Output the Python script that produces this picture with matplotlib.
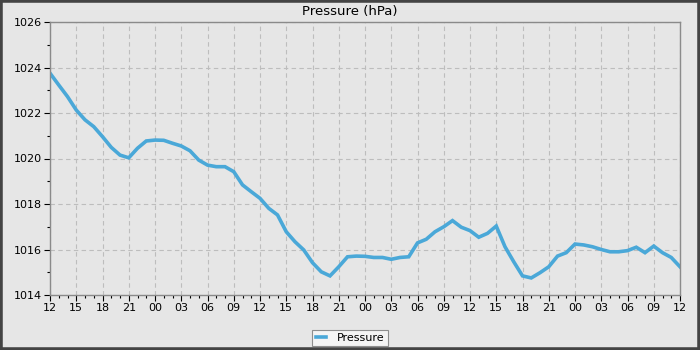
import matplotlib
matplotlib.use("Agg")
import matplotlib.pyplot as plt
import matplotlib.patches as patches
from matplotlib.ticker import MultipleLocator

# Hourly pressure readings (hPa), starting at 12:00 and running for 72 hours
hours = list(range(73))
pressure = [
    1023.75, 1023.23, 1022.72, 1022.13, 1021.70, 1021.40, 1020.96, 1020.49,
    1020.15, 1020.03, 1020.45, 1020.77, 1020.81, 1020.80, 1020.67, 1020.55,
    1020.34, 1019.93, 1019.71, 1019.64, 1019.64, 1019.42, 1018.84, 1018.54,
    1018.25, 1017.81, 1017.52, 1016.78, 1016.34, 1015.98, 1015.42, 1015.02,
    1014.84, 1015.24, 1015.68, 1015.71, 1015.70, 1015.65, 1015.65, 1015.57,
    1015.65, 1015.68, 1016.29, 1016.45, 1016.78, 1017.00, 1017.27, 1016.98,
    1016.83, 1016.54, 1016.71, 1017.03, 1016.12, 1015.46, 1014.84, 1014.75,
    1014.98, 1015.24, 1015.71, 1015.86, 1016.24, 1016.20, 1016.12, 1016.00,
    1015.90, 1015.90, 1015.95, 1016.10, 1015.86, 1016.15, 1015.86, 1015.65,
    1015.24,
]
tick_hours = list(range(0, 73, 3))
tick_labels = ["12", "15", "18", "21", "00", "03", "06", "09"] * 3 + ["12"]

bg = "#e6e6e6"
line_color = "#4aa8d8"

fig = plt.figure(figsize=(7, 3.5), dpi=100, facecolor=bg)
ax = fig.add_axes([50 / 700, 55 / 350, 630 / 700, 273 / 350])
ax.set_facecolor(bg)

line, = ax.plot(hours, pressure, color=line_color, lw=2.6, label="Pressure",
                solid_joinstyle="miter")

ax.set_xlim(0, 72)
ax.set_ylim(1014, 1026)
ax.set_xticks(tick_hours)
ax.set_xticklabels(tick_labels)
ax.xaxis.set_minor_locator(MultipleLocator(1))
ax.yaxis.set_major_locator(MultipleLocator(2))
ax.yaxis.set_minor_locator(MultipleLocator(1))
ax.tick_params(which="major", length=4, width=0.8, labelsize=8, pad=2)
ax.tick_params(which="minor", length=2.5, width=0.8)
ax.tick_params(top=False, right=False, which="both")

ax.grid(True, which="major", color="#bdbdbd", ls=(0, (4, 3)), lw=0.8)
for s in ax.spines.values():
    s.set_color("#8a8a8a")
    s.set_linewidth(1.0)

# title and legend are centred on the whole figure, not the axes
fig.text(0.5, 1 - 11 / 350, "Pressure (hPa)", ha="center", va="center",
         fontsize=9.5)

leg = fig.legend(handles=[line], loc="center", bbox_to_anchor=(0.5, 12 / 350),
                 fontsize=8, frameon=True, fancybox=False, handlelength=0.9,
                 borderpad=0.3, handletextpad=1.0)
leg.get_frame().set_facecolor("#f8f8f8")
leg.get_frame().set_edgecolor("#777777")
leg.get_frame().set_linewidth(0.8)

# dark frame round the whole image
fig.patches.append(patches.Rectangle((0, 0), 1, 1, transform=fig.transFigure,
                                     fill=False, edgecolor="#444444", lw=4))

fig.savefig("out.png", dpi=100, facecolor=bg)
